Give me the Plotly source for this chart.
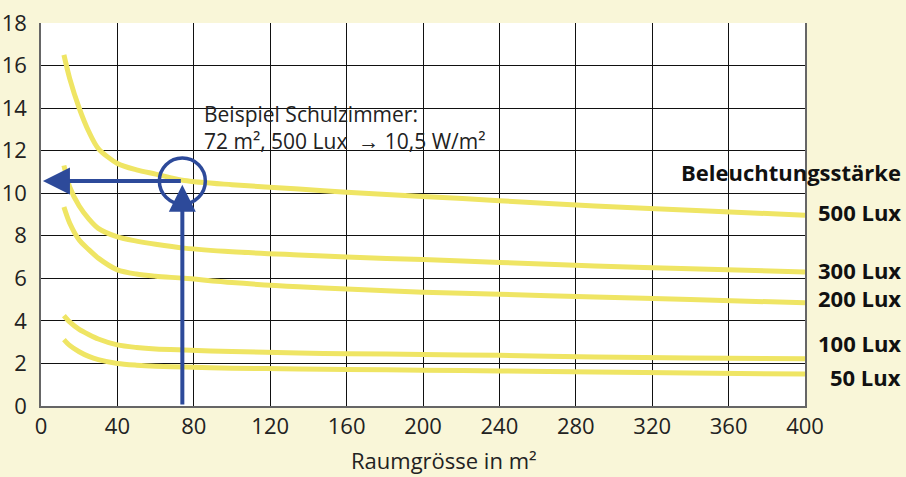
import plotly.graph_objects as go

# Room size (m²) sample positions
room_size = [12, 15, 20, 25, 30, 40, 50, 60, 75, 100, 135, 160, 200, 240, 290, 340, 400]

# Specific power (W/m²) per illuminance level
lux_500 = [16.5, 15.4, 14.0, 12.9, 12.1, 11.4, 11.1, 10.9, 10.6, 10.4, 10.2, 10.05, 9.85, 9.65, 9.4, 9.2, 8.97]
lux_300 = [11.3, 10.3, 9.4, 8.8, 8.35, 7.95, 7.75, 7.6, 7.42, 7.25, 7.1, 7.0, 6.88, 6.75, 6.58, 6.45, 6.3]
lux_200 = [9.35, 8.6, 7.8, 7.35, 6.95, 6.4, 6.2, 6.1, 6.0, 5.8, 5.6, 5.5, 5.35, 5.25, 5.12, 5.0, 4.85]
lux_100 = [4.25, 3.95, 3.6, 3.36, 3.15, 2.87, 2.75, 2.68, 2.63, 2.56, 2.49, 2.46, 2.42, 2.38, 2.3, 2.26, 2.22]
lux_50 = [3.12, 2.85, 2.55, 2.33, 2.18, 2.0, 1.92, 1.87, 1.83, 1.78, 1.74, 1.72, 1.68, 1.65, 1.6, 1.55, 1.5]

series = [("500 Lux", lux_500), ("300 Lux", lux_300), ("200 Lux", lux_200),
          ("100 Lux", lux_100), ("50 Lux", lux_50)]
label_y = [9.12, 6.39, 5.07, 2.96, 1.36]

x_ticks = [0, 40, 80, 120, 160, 200, 240, 280, 320, 360, 400]
y_ticks = [0, 2, 4, 6, 8, 10, 12, 14, 16, 18]

example_x = 74
example_y = 10.57

BG = "#f9f6d8"
YELLOW = "#efe564"
BLUE = "#2d4a9a"
FONT = "Open Sans"

fig = go.Figure()
for name, vals in series:
    fig.add_trace(go.Scatter(x=room_size, y=vals, mode="lines", name=name,
                             line=dict(color=YELLOW, width=5, shape="spline", smoothing=0.8),
                             showlegend=False, hoverinfo="skip"))

ann = []
# Lux labels
for (name, _), ly in zip(series, label_y):
    ann.append(dict(xref="paper", yref="y", x=1.1285, y=ly, text="<b>" + name + "</b>",
                    showarrow=False, xanchor="right", yanchor="middle",
                    font=dict(family=FONT, size=22, color="#111")))
ann.append(dict(xref="paper", yref="y", x=1.1285, y=11.0, text="<b>Beleuchtungsstärke</b>",
                showarrow=False, xanchor="right", yanchor="middle",
                font=dict(family=FONT, size=22, color="#111")))
# Example text
ann.append(dict(xref="x", yref="y", x=84.5, y=13.1,
                text="Beispiel Schulzimmer:<br>72 m², 500 Lux  \u2192 10,5 W/m²",
                showarrow=False, xanchor="left", yanchor="middle", align="left",
                font=dict(family=FONT, size=21, color="#222")))
# X axis title (placed slightly right of centre, as in the original)
ann.append(dict(xref="paper", yref="paper", x=0.5275, y=-0.1825, text="Raumgrösse in m²",
                showarrow=False, xanchor="center", yanchor="bottom", borderpad=0,
                font=dict(family=FONT, size=22, color="#222")))
# Arrows
ann.append(dict(xref="x", yref="y", axref="x", ayref="y", x=1, y=example_y,
                ax=example_x, ay=example_y, text="", showarrow=True,
                arrowhead=2, arrowsize=1.35, arrowwidth=4, arrowcolor=BLUE))
ann.append(dict(xref="x", yref="y", axref="x", ayref="y", x=example_x, y=10.4,
                ax=example_x, ay=0, text="", showarrow=True,
                arrowhead=2, arrowsize=1.35, arrowwidth=4, arrowcolor=BLUE))

fig.update_layout(
    width=906, height=477,
    paper_bgcolor=BG, plot_bgcolor="white",
    margin=dict(l=41, r=101, t=23, b=71),
    font=dict(family=FONT, size=21, color="#222"),
    annotations=ann,
    shapes=[dict(type="circle", xref="x", yref="y", xsizemode="pixel", ysizemode="pixel",
                 xanchor=example_x, yanchor=example_y, x0=-23, x1=23, y0=-23, y1=23,
                 line=dict(color=BLUE, width=3.5))],
)
fig.update_xaxes(range=[0, 400], tickvals=x_ticks, ticktext=[str(v) for v in x_ticks],
                 showgrid=True, gridcolor="#111", gridwidth=1, zeroline=False,
                 showline=True, linecolor="#666", linewidth=2, mirror=False,
                 ticks="", ticklabelstandoff=0, tickfont=dict(size=22), automargin=False)
fig.update_yaxes(range=[0, 18], tickvals=y_ticks, ticktext=[str(v) for v in y_ticks],
                 showgrid=True, gridcolor="#111", gridwidth=1, zeroline=False,
                 showline=True, linecolor="#666", linewidth=1.5, mirror=True,
                 ticks="", ticklabelstandoff=8, tickfont=dict(size=22), automargin=False)

fig.write_html("out.html", config={"displayModeBar": False},
               post_script="document.body.style.margin='0';document.body.style.padding='0';")
